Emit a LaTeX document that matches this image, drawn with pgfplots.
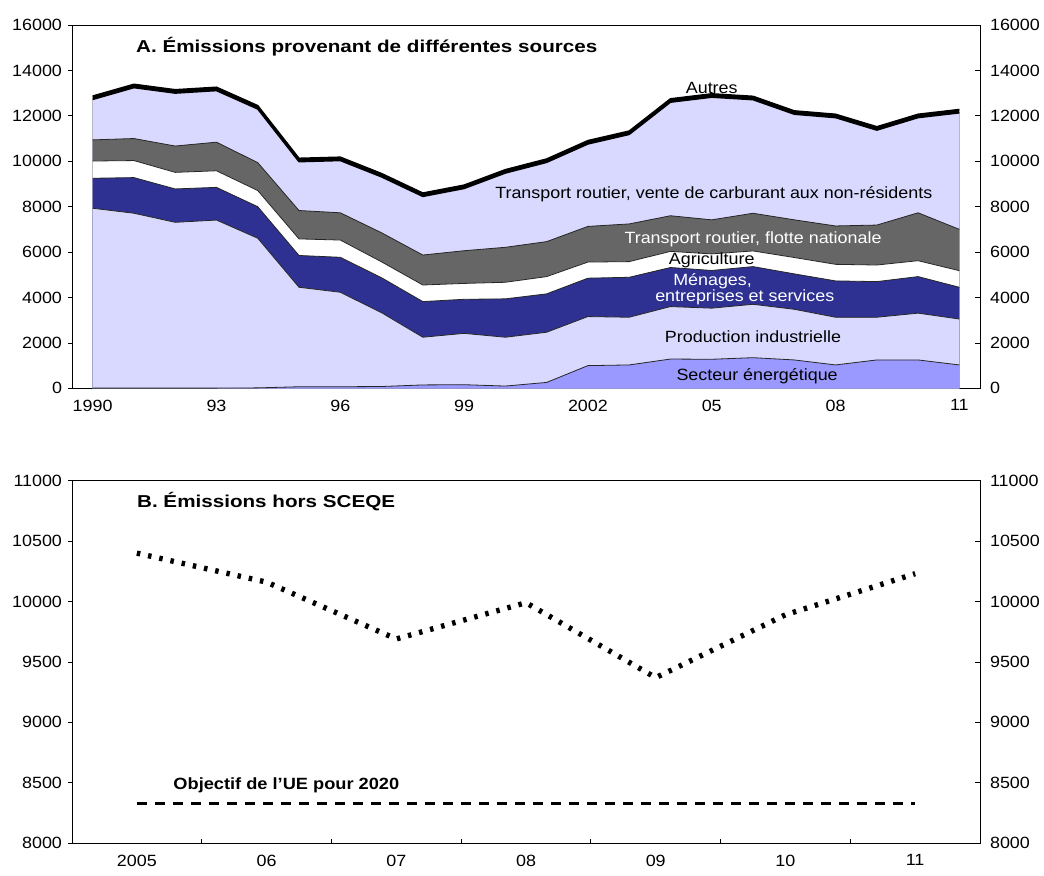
\documentclass[border=0pt]{standalone}
\usepackage{fontspec}
\setmainfont[FakeStretch=1.1]{Liberation Sans}
\newfontfamily\ttlfont[FakeStretch=1.2]{Liberation Sans}
\newfontfamily\objfont[FakeStretch=1.12]{Liberation Sans}
\usepackage{pgfplots}
\usepackage{pgfplotstable}
\pgfplotsset{compat=1.18}
\definecolor{lav}{RGB}{217,217,255}
\definecolor{enc}{RGB}{153,153,255}
\definecolor{navy}{RGB}{46,49,146}
\definecolor{grayc}{RGB}{102,102,102}

% Emissions by source (layer values)
\pgfplotstableread{
year en ind men agr flo ven aut
1990 10 7920 1320 760 930 1780 150
1991 10 7700 1570 750 970 2240 150
1992 10 7300 1470 730 1160 2330 150
1993 10 7400 1440 730 1260 2270 150
1994 20 6590 1390 710 1230 2360 150
1995 70 4380 1400 730 1250 2150 150
1996 70 4160 1540 760 1200 2300 150
1997 80 3250 1540 700 1280 2460 150
1998 150 2100 1570 730 1320 2580 150
1999 160 2260 1500 700 1440 2740 150
2000 100 2150 1690 730 1540 3270 150
2001 260 2210 1690 760 1540 3490 150
2002 1000 2160 1690 710 1570 3630 150
2003 1030 2100 1760 690 1660 3940 150
2004 1290 2310 1720 710 1570 5000 150
2005 1280 2250 1660 730 1500 5400 150
2006 1350 2350 1660 690 1660 5000 150
2007 1250 2230 1560 720 1660 4650 150
2008 1030 2100 1600 730 1690 4770 150
2009 1250 1880 1570 730 1760 4180 150
2010 1250 2060 1610 700 2110 4190 150
2011 1030 2020 1400 730 1820 5130 150
}\emis

\pgfplotstableread{
x val
0 10400
1 10160
2 9690
3 9990
4 9370
5 9890
6 10230
}\hors

\pgfplotstableread{
x val
0 8330
6 8330
}\objectif

\tikzset{
  lab/.style={font=\fontsize{12.2}{14}\selectfont, inner sep=0pt},
  ttl/.style={font=\ttlfont\bfseries\fontsize{12.9}{15}\selectfont, inner sep=0pt, anchor=west},
}
\pgfplotsset{
  panel/.style={scale only axis, width=681pt, anchor=south west,
    /pgf/number format/assume math mode=true,
    /pgf/number format/fixed,
    /pgf/number format/1000 sep={},
    tick label style={font=\fontsize{12.2}{15}\selectfont},
    axis line style={line width=0.7pt},
    every tick/.style={black, line width=0.6pt},
    scaled y ticks=false,
    clip=false},
  mainpanel/.style={panel, xtick pos=left, tick align=inside,
    major tick length=0pt, minor tick length=3.5pt, ytick=\empty,
    x tick label style={yshift=-5pt}},
  leftpanel/.style={panel, axis x line=none, axis y line*=left,
    tick align=outside, major tick length=3pt,
    y tick label style={xshift=-1pt}},
  rightpanel/.style={panel, axis x line=none, axis y line*=right,
    tick align=inside, major tick length=3.5pt,
    y tick label style={xshift=4pt}},
}

\begin{document}
\begin{tikzpicture}
\path[use as bounding box] (0,0) rectangle (783pt,656.25pt);

% ---------- Panel A ----------
\begin{axis}[mainpanel, at={(54pt,365pt)}, height=272.5pt,
  xmin=1989.5, xmax=2011.5, ymin=0, ymax=16000,
  xtick={1990,1993,...,2011}, xticklabels={1990,93,96,99,2002,05,08,11},
  minor xtick={1990.5,1991.5,...,2010.5}]
\addplot[fill=black, draw=none] table[x=year, y expr=\thisrow{en}+\thisrow{ind}+\thisrow{men}+\thisrow{agr}+\thisrow{flo}+\thisrow{ven}+\thisrow{aut}] {\emis} \closedcycle;
\addplot[fill=lav, draw=none] table[x=year, y expr=\thisrow{en}+\thisrow{ind}+\thisrow{men}+\thisrow{agr}+\thisrow{flo}+\thisrow{ven}] {\emis} \closedcycle;
\addplot[fill=grayc, draw=none] table[x=year, y expr=\thisrow{en}+\thisrow{ind}+\thisrow{men}+\thisrow{agr}+\thisrow{flo}] {\emis} \closedcycle;
\addplot[fill=white, draw=none] table[x=year, y expr=\thisrow{en}+\thisrow{ind}+\thisrow{men}+\thisrow{agr}] {\emis} \closedcycle;
\addplot[fill=navy, draw=none] table[x=year, y expr=\thisrow{en}+\thisrow{ind}+\thisrow{men}] {\emis} \closedcycle;
\addplot[fill=lav, draw=none] table[x=year, y expr=\thisrow{en}+\thisrow{ind}] {\emis} \closedcycle;
\addplot[fill=enc, draw=none] table[x=year, y expr=\thisrow{en}] {\emis} \closedcycle;
% boundary lines
\addplot[black!85, line width=0.6pt] table[x=year, y expr=\thisrow{en}] {\emis};
\addplot[black!85, line width=0.6pt] table[x=year, y expr=\thisrow{en}+\thisrow{ind}] {\emis};
\addplot[black!85, line width=0.6pt] table[x=year, y expr=\thisrow{en}+\thisrow{ind}+\thisrow{men}] {\emis};
\addplot[black!85, line width=0.6pt] table[x=year, y expr=\thisrow{en}+\thisrow{ind}+\thisrow{men}+\thisrow{agr}] {\emis};
\addplot[black!85, line width=0.6pt] table[x=year, y expr=\thisrow{en}+\thisrow{ind}+\thisrow{men}+\thisrow{agr}+\thisrow{flo}] {\emis};
\addplot[black, line width=1.1pt] table[x=year, y expr=\thisrow{en}+\thisrow{ind}+\thisrow{men}+\thisrow{agr}+\thisrow{flo}+\thisrow{ven}] {\emis};
\addplot[black, line width=1.1pt] table[x=year, y expr=\thisrow{en}+\thisrow{ind}+\thisrow{men}+\thisrow{agr}+\thisrow{flo}+\thisrow{ven}+\thisrow{aut}] {\emis};
% labels
\node[ttl] at (axis cs:1991.05,15030) {A. Émissions provenant de différentes sources};
\node[lab] at (axis cs:2005.0,13220) {Autres};
\node[lab] at (axis cs:2005.05,8550) {Transport routier, vente de carburant aux non-résidents};
\node[lab, text=white] at (axis cs:2006.0,6560) {Transport routier, flotte nationale};
\node[lab] at (axis cs:2005.0,5650) {Agriculture};
\node[lab, text=white, align=left, font=\fontsize{12.2}{10}\selectfont] at (axis cs:2005.8,4359) {\hspace*{13.5pt}Ménages,\\entreprises et services};
\node[lab] at (axis cs:2006.0,2260) {Production industrielle};
\node[lab] at (axis cs:2006.1,540) {Secteur énergétique};
\end{axis}
\begin{axis}[leftpanel, at={(54pt,365pt)}, height=272.5pt,
  xmin=1989.5, xmax=2011.5, ymin=0, ymax=16000, ytick={0,2000,...,16000}]
\end{axis}
\begin{axis}[rightpanel, at={(54pt,365pt)}, height=272.5pt,
  xmin=1989.5, xmax=2011.5, ymin=0, ymax=16000, ytick={0,2000,...,16000}]
\end{axis}

% ---------- Panel B ----------
\begin{axis}[mainpanel, at={(54pt,23.8pt)}, height=272pt,
  xmin=-0.5, xmax=6.5, ymin=8000, ymax=11000,
  xtick={0,...,6}, xticklabels={2005,06,07,08,09,10,11},
  minor xtick={0.5,1.5,...,5.5}]
\addplot[black, line width=4pt, dash pattern=on 2.6pt off 6pt] table[x=x, y=val] {\hors};
\addplot[black, line width=2.4pt, dash pattern=on 7.5pt off 6pt] table[x=x, y=val] {\objectif};
\node[ttl] at (axis cs:0.0,10823) {B. Émissions hors SCEQE};
\node[ttl, font=\objfont\bfseries\fontsize{12.2}{14}\selectfont] at (axis cs:0.28,8482) {Objectif de l’UE pour 2020};
\end{axis}
\begin{axis}[leftpanel, at={(54pt,23.8pt)}, height=272pt,
  xmin=-0.5, xmax=6.5, ymin=8000, ymax=11000, ytick={8000,8500,...,11000}]
\end{axis}
\begin{axis}[rightpanel, at={(54pt,23.8pt)}, height=272pt,
  xmin=-0.5, xmax=6.5, ymin=8000, ymax=11000, ytick={8000,8500,...,11000}]
\end{axis}
\end{tikzpicture}
\end{document}
